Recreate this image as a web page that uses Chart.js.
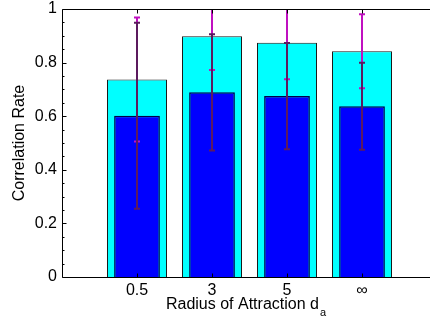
<!DOCTYPE html>
<html><head><meta charset="utf-8">
<script src="https://cdn.jsdelivr.net/npm/chart.js@4"></script>
<style>
html,body{margin:0;padding:0;overflow:hidden;background:#fff;width:430px;height:320px}
#wrap{position:absolute;left:0;top:0;width:445px;height:320px}
</style>
</head><body><div id="wrap"><canvas id="c" width="445" height="320"></canvas></div>
<script>
const categories = ['0.5', '3', '5', '\u221E'];
const positions = [1, 2, 3, 4];
const outerValues = [0.737, 0.898, 0.874, 0.842];
const outerErrors = [0.231, 0.126, 0.136, 0.138];
const innerValues = [0.602, 0.689, 0.675, 0.637];
const innerErrors = [0.347, 0.217, 0.198, 0.162];
const yTickValues = [0, 0.2, 0.4, 0.6, 0.8, 1];
const yMinorStep = 0.05;
const xTitle = 'Radius of Attraction d';
const xTitleSub = 'a';
const yTitle = 'Correlation Rate';

const FONT = '"Liberation Sans", Arial, Helvetica, sans-serif';

const errorPlugin = {
  id: 'errbars',
  afterDatasetsDraw(chart) {
    const ctx = chart.ctx, xs = chart.scales.x, ys = chart.scales.y, a = chart.chartArea;
    ctx.save();
    ctx.beginPath(); ctx.rect(a.left, a.top, a.right - a.left, a.bottom - a.top); ctx.clip();
    const sets = [
      {vals: outerValues, errs: outerErrors, color: '#c010c0'},
      {vals: innerValues, errs: innerErrors, color: '#5c1a5e'}
    ];
    sets.forEach(s => {
      ctx.strokeStyle = s.color; ctx.lineWidth = 2;
      positions.forEach((p, i) => {
        const x = Math.round(xs.getPixelForValue(p)) ;
        const yt = ys.getPixelForValue(s.vals[i] + s.errs[i]);
        const yb = ys.getPixelForValue(s.vals[i] - s.errs[i]);
        ctx.beginPath();
        ctx.moveTo(x, yt); ctx.lineTo(x, yb);
        ctx.moveTo(x - 3, yt); ctx.lineTo(x + 3, yt);
        ctx.moveTo(x - 3, yb); ctx.lineTo(x + 3, yb);
        ctx.stroke();
      });
    });
    ctx.restore();

    // axes frame and ticks
    ctx.save();
    ctx.strokeStyle = '#000'; ctx.lineWidth = 1;
    const L = Math.round(a.left) + 0.5, T = Math.round(a.top) + 0.5, B = Math.round(a.bottom) + 0.5, R = a.right + 5;
    ctx.beginPath();
    ctx.moveTo(L, T); ctx.lineTo(R, T);
    ctx.moveTo(L, T); ctx.lineTo(L, B); ctx.lineTo(R, B);
    for (let v = 0; v <= 1.0001; v += yMinorStep) {
      const y = Math.round(ys.getPixelForValue(v)) + 0.5;
      const major = yTickValues.some(t => Math.abs(t - v) < 1e-6);
      ctx.moveTo(L, y); ctx.lineTo(L + (major ? 4 : 2), y);
    }
    positions.forEach(p => {
      const x = Math.round(xs.getPixelForValue(p)) + 0.5;
      ctx.moveTo(x, T); ctx.lineTo(x, T + 4);
      ctx.moveTo(x, B); ctx.lineTo(x, B - 4);
    });
    ctx.stroke();

    // titles
    ctx.fillStyle = '#000';
    ctx.font = '16px ' + FONT;
    const w1 = ctx.measureText(xTitle).width;
    ctx.font = '11px ' + FONT;
    const w2 = ctx.measureText(xTitleSub).width;
    const cx = (a.left + a.right) / 2 - 4;
    const x0 = cx - (w1 + w2) / 2;
    ctx.textAlign = 'left'; ctx.textBaseline = 'alphabetic';
    ctx.font = '16px ' + FONT;
    ctx.fillText(xTitle, x0, 309);
    ctx.font = '11px ' + FONT;
    ctx.fillText(xTitleSub, x0 + w1 + 1, 316);

    ctx.translate(20, (a.top + a.bottom) / 2);
    ctx.rotate(-Math.PI / 2);
    ctx.font = '16px ' + FONT;
    ctx.textAlign = 'center'; ctx.textBaseline = 'middle';
    ctx.fillText(yTitle, 0, 0);
    ctx.restore();
  }
};

new Chart(document.getElementById('c'), {
  type: 'bar',
  data: {
    datasets: [
      {
        data: positions.map((p, i) => ({x: p, y: outerValues[i]})),
        backgroundColor: '#00ffff', borderColor: '#1a1a1a', borderWidth: 1,
        barPercentage: 0.8, categoryPercentage: 1, grouped: false, order: 2
      },
      {
        data: positions.map((p, i) => ({x: p, y: innerValues[i]})),
        backgroundColor: '#0000ff', borderColor: '#00004a', borderWidth: 1.5,
        barPercentage: 0.61, categoryPercentage: 1, grouped: false, order: 1
      }
    ]
  },
  options: {
    responsive: false, animation: false, devicePixelRatio: 1,
    layout: {padding: {top: 9, right: 8, left: 0, bottom: 0}},
    plugins: {legend: {display: false}, tooltip: {enabled: false}},
    scales: {
      x: {
        type: 'linear', min: 0, max: 5, offset: false,
        grid: {display: false, drawTicks: false}, border: {display: false},
        afterFit(s) { s.height = 43; s.paddingLeft = 0; s.paddingRight = 0; },
        afterBuildTicks(s) { s.ticks = positions.map(v => ({value: v})); },
        ticks: {
          padding: 4, color: '#000', font: {family: FONT, size: 16},
          maxRotation: 0, autoSkip: false,
          callback: (v) => { const i = positions.indexOf(v); return i >= 0 ? categories[i] : ''; }
        }
      },
      y: {
        min: 0, max: 1,
        grid: {display: false, drawTicks: false}, border: {display: false},
        afterFit(s) { s.width = 62; s.paddingTop = 0; s.paddingBottom = 0; },
        afterBuildTicks(s) { s.ticks = yTickValues.map(v => ({value: v})); },
        ticks: {padding: 5, color: '#000', font: {family: FONT, size: 16}, callback: v => String(v)}
      }
    }
  },
  plugins: [errorPlugin]
});
</script>
</body></html>
